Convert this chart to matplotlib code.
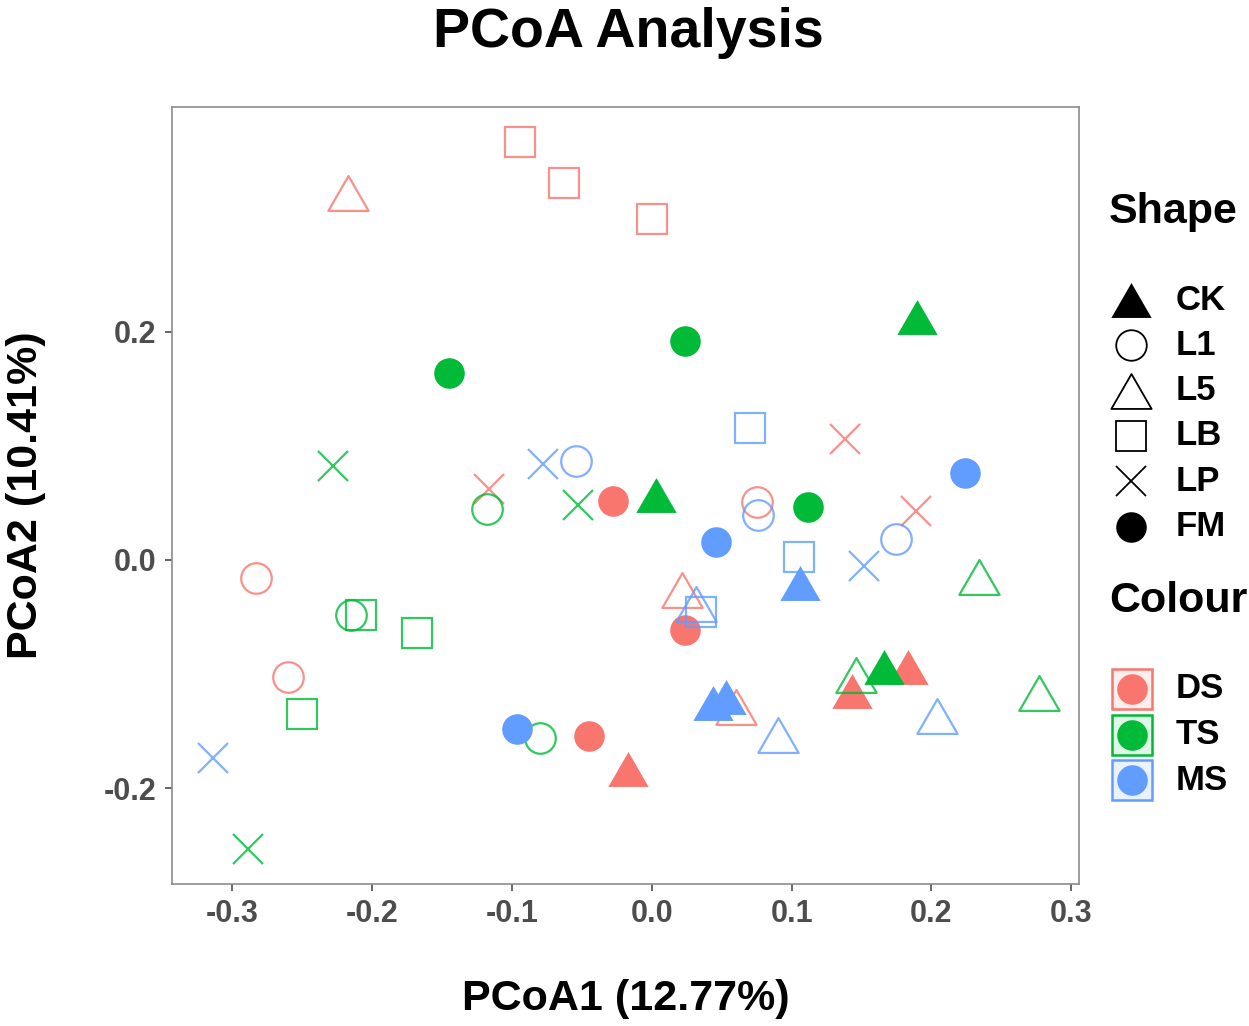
import matplotlib
matplotlib.use("Agg")
import matplotlib.pyplot as plt
from matplotlib.path import Path
from matplotlib.lines import Line2D
from matplotlib.patches import Rectangle

plt.rcParams['font.family'] = ['Liberation Sans', 'DejaVu Sans']
plt.rcParams['font.weight'] = 'bold'

# sample groups (colour) and treatments (shape), 3 replicates each
colour_groups = ["DS", "TS", "MS"]
shape_groups = ["CK", "L1", "L5", "LB", "LP", "FM"]

# PCoA coordinates, ordered CK x3, L1 x3, L5 x3, LB x3, LP x3, FM x3
ds_pc1 = [-0.017, 0.143, 0.183, -0.283, -0.260, 0.075, -0.217, 0.022, 0.060,
          -0.094, -0.063, 0.000, -0.116, 0.138, 0.189, -0.028, 0.024, -0.045]
ds_pc2 = [-0.183, -0.115, -0.094, -0.016, -0.103, 0.051, 0.322, -0.026, -0.129,
          0.366, 0.330, 0.299, 0.062, 0.106, 0.043, 0.052, -0.061, -0.154]
ts_pc1 = [0.190, 0.003, 0.166, -0.118, -0.215, -0.080, 0.234, 0.146, 0.277,
          -0.208, -0.168, -0.250, -0.228, -0.053, -0.289, -0.145, 0.024, 0.112]
ts_pc2 = [0.213, 0.057, -0.094, 0.045, -0.048, -0.156, -0.015, -0.101, -0.117,
          -0.048, -0.064, -0.135, 0.082, 0.048, -0.253, 0.164, 0.192, 0.046]
ms_pc1 = [0.106, 0.044, 0.053, -0.054, 0.076, 0.175, 0.032, 0.090, 0.204,
          0.070, 0.105, 0.035, -0.078, -0.314, 0.152, 0.224, 0.046, -0.096]
ms_pc2 = [-0.020, -0.125, -0.120, 0.087, 0.039, 0.018, -0.039, -0.153, -0.137,
          0.116, 0.003, -0.046, 0.084, -0.174, -0.005, 0.076, 0.016, -0.148]

pc1 = {"DS": ds_pc1, "TS": ts_pc1, "MS": ms_pc1}
pc2 = {"DS": ds_pc2, "TS": ts_pc2, "MS": ms_pc2}

colours = {"DS": "#F8766D", "TS": "#00BA38", "MS": "#619CFF"}

# equilateral triangle like ggplot's shape 2/17
tri = Path([(0, 0.433), (-0.5, -0.433), (0.5, -0.433), (0, 0.433)],
           [Path.MOVETO, Path.LINETO, Path.LINETO, Path.CLOSEPOLY])

# marker, filled?, size (pt)
shape_style = {
    "CK": (tri, True, 29),
    "L1": ("o", False, 22),
    "L5": (tri, False, 29),
    "LB": ("s", False, 22),
    "LP": ("x", False, 22),
    "FM": ("o", True, 22),
}

fig = plt.figure(figsize=(12.49, 10.26), dpi=100)
ax = fig.add_axes([0.1377, 0.1384, 0.7262, 0.7573])

for g in colour_groups:
    xs, ys = pc1[g], pc2[g]
    for i, s in enumerate(shape_groups):
        m, filled, ms = shape_style[s]
        sx = xs[3 * i:3 * i + 3]
        sy = ys[3 * i:3 * i + 3]
        if filled:
            ax.plot(sx, sy, linestyle="none", marker=m, markersize=ms,
                    markerfacecolor=colours[g], markeredgecolor="none")
        else:
            ax.plot(sx, sy, linestyle="none", marker=m, markersize=ms,
                    markerfacecolor="none", markeredgecolor=colours[g],
                    markeredgewidth=1.6, alpha=0.8)

ax.set_xlim(-0.343, 0.3055)
ax.set_ylim(-0.284, 0.397)
ax.set_xticks([-0.3, -0.2, -0.1, 0.0, 0.1, 0.2, 0.3])
ax.set_yticks([-0.2, 0.0, 0.2])
ax.set_xticklabels(["-0.3", "-0.2", "-0.1", "0.0", "0.1", "0.2", "0.3"])
ax.set_yticklabels(["-0.2", "0.0", "0.2"])
ax.tick_params(colors="#4D4D4D", labelsize=22, length=5, width=1.2, pad=6)
for lab in ax.get_xticklabels() + ax.get_yticklabels():
    lab.set_fontweight("bold")
for sp in ax.spines.values():
    sp.set_color("#8C8C8C")
    sp.set_linewidth(1.2)

ax.set_xlabel("PCoA1 (12.77%)", fontsize=31, fontweight="bold", labelpad=36)
ax.set_ylabel("PCoA2 (10.41%)", fontsize=31, fontweight="bold", labelpad=42)
fig.text(0.5035, 0.968, "PCoA Analysis", fontsize=40, fontweight="bold",
         ha="center", va="center")

# legend: Shape
W, H = 1249.0, 1026.0
fig.text(1109 / W, 1 - 212 / H, "Shape", fontsize=31, fontweight="bold",
         ha="left", va="center")
for k, s in enumerate(shape_groups):
    yk = 1 - (300 + 45.3 * k) / H
    m, filled, ms = shape_style[s]
    fig.add_artist(Line2D([1131 / W], [yk], transform=fig.transFigure,
                          linestyle="none", marker=m, markersize=ms,
                          markerfacecolor="black" if filled else "none",
                          markeredgecolor="black" if not filled else "none",
                          markeredgewidth=1.3))
    fig.text(1176 / W, yk, s, fontsize=25, fontweight="bold",
             ha="left", va="center")

# legend: Colour
fig.text(1109 / W, 1 - 601 / H, "Colour", fontsize=31, fontweight="bold",
         ha="left", va="center")
for k, g in enumerate(colour_groups):
    yc = 689 + 45.5 * k
    yk = 1 - yc / H
    fig.add_artist(Rectangle((1112 / W, 1 - (yc + 20) / H), 40 / W, 40 / H,
                             transform=fig.transFigure, facecolor=colours[g],
                             alpha=0.12, edgecolor="none"))
    fig.add_artist(Rectangle((1112 / W, 1 - (yc + 20) / H), 40 / W, 40 / H,
                             transform=fig.transFigure, facecolor="none",
                             edgecolor=colours[g], linewidth=1.8))
    fig.add_artist(Line2D([1132 / W], [yk], transform=fig.transFigure,
                          linestyle="none", marker="o", markersize=22,
                          markerfacecolor=colours[g], markeredgecolor="none"))
    fig.text(1176 / W, yk, g, fontsize=25, fontweight="bold",
             ha="left", va="center")

fig.savefig("out.png", dpi=100)
